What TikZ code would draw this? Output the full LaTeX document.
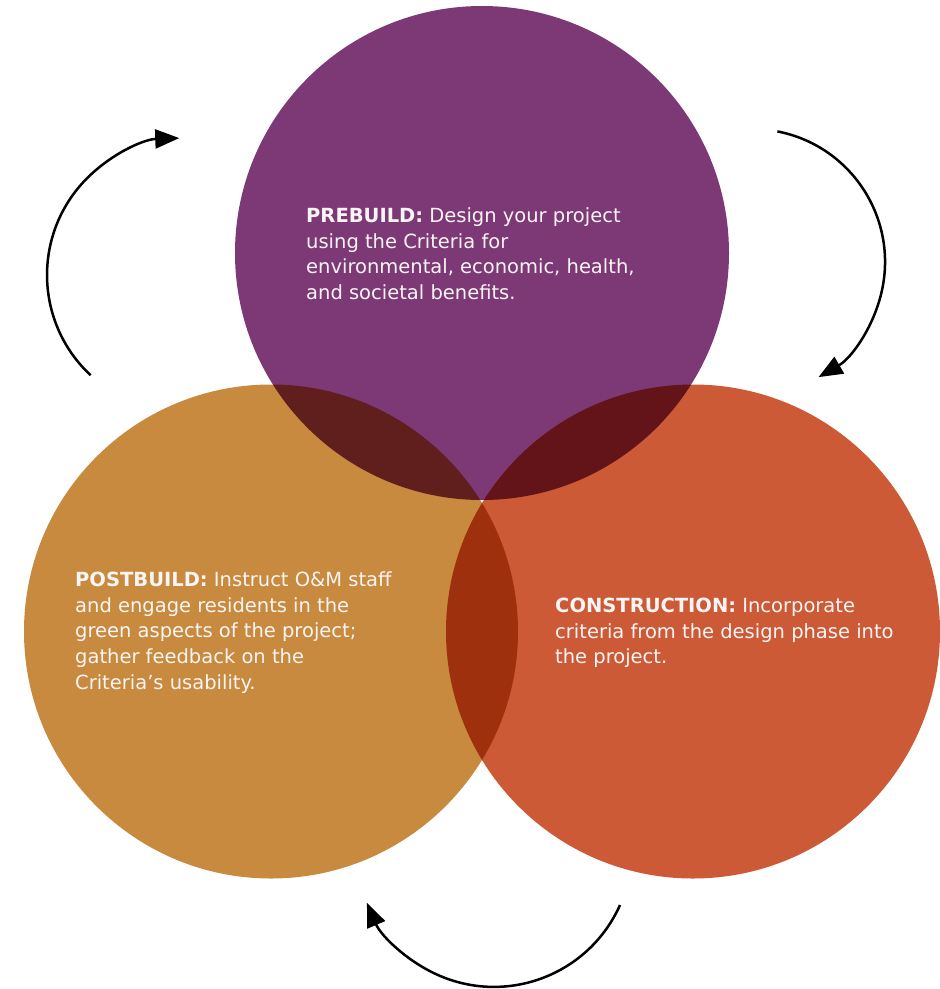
\documentclass[tikz,border=0pt]{standalone}
\usepackage{fontspec}
\setmainfont{DejaVu Sans}
\usepackage{tikz}
\definecolor{prebuild}{RGB}{124, 57, 117}
\definecolor{postbuild}{RGB}{199, 138, 62}
\definecolor{construction}{RGB}{204, 90, 54}
\definecolor{labeltext}{RGB}{250, 245, 245}
\usetikzlibrary{arrows.meta}

\begin{document}
\begin{tikzpicture}[
  phase/.style={circle, minimum size=494pt, inner sep=0pt, draw=none},
  phasetext/.style={anchor=base west, inner sep=0pt, align=left, text=labeltext,
    font=\fontsize{19.5pt}{25.7pt}\selectfont},
  cycle/.style={line width=2.5pt, -{Triangle[length=24pt, width=19pt]}}]
\useasboundingbox (0pt, 0pt) rectangle (940pt, -989pt);
\begin{scope}[blend group=multiply]
\node (pre) [phase, fill=prebuild] at (482.0pt, -253.0pt) {};
\node (post) [phase, fill=postbuild] at (271.0pt, -631.5pt) {};
\node (con) [phase, fill=construction] at (693.0pt, -631.5pt) {};
\end{scope}
\node (pretext) [phasetext] at (306.0pt, -299.6pt) {\textbf{PREBUILD:} Design your project\\using the Criteria for\\environmental, economic, health,\\and societal benefits.};
\node (posttext) [phasetext] at (75.0pt, -689.3pt) {\textbf{POSTBUILD:} Instruct O\&M staff\\and engage residents in the\\green aspects of the project;\\gather feedback on the\\Criteria’s usability.};
\node (context) [phasetext] at (555.0pt, -663.9pt) {\textbf{CONSTRUCTION:} Incorporate\\criteria from the design phase into\\the project.};
\coordinate (fromleft) at (90.6pt, -375.2pt);
\coordinate (fromright) at (777.4pt, -131.4pt);
\coordinate (frombottom) at (620.0pt, -905.0pt);
\draw [cycle] (fromleft) arc [start angle=227, end angle=92, radius=137pt];
\draw [cycle] (fromright) arc [start angle=79, end angle=-60, radius=133pt];
\draw [cycle] (frombottom) arc [start angle=-24, end angle=-157, radius=138pt];
\end{tikzpicture}
\end{document}
